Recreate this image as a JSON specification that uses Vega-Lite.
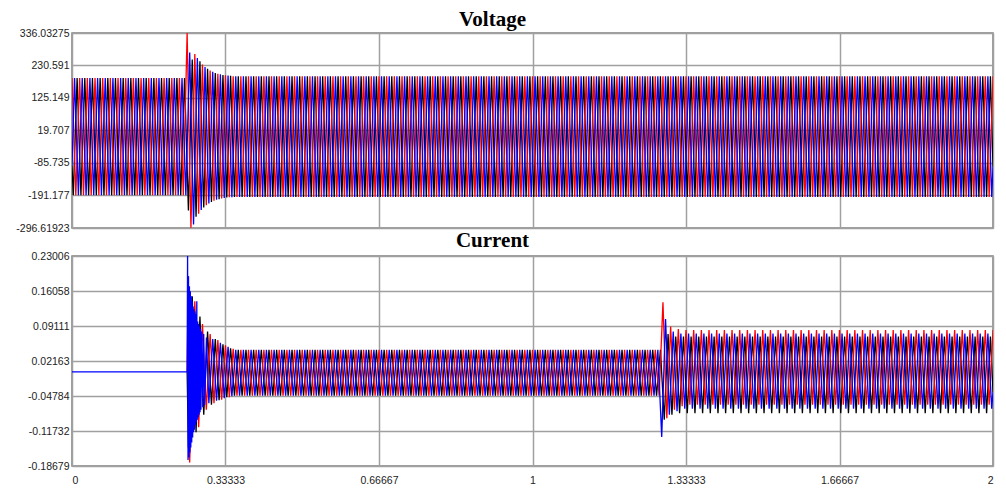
{
"$schema": "https://vega.github.io/schema/vega-lite/v6.json",
"padding": {"left": 15, "top": 8, "right": 10, "bottom": 4},
"background": "white",
"config": {
 "locale": {"number": {"decimal": ".", "thousands": ",", "grouping": [3], "currency": ["$", ""], "minus": "-"}},
 "view": {"stroke": "#808080", "strokeWidth": 1.5},
 "axis": {"grid": true, "gridColor": "#a0a0a0", "gridWidth": 1.5, "gridOpacity": 1, "ticks": false, "domain": false, "labelFont": "Liberation Sans", "labelFontSize": 10.5, "labelColor": "#222", "zindex": 1},
 "title": {"font": "Liberation Serif", "fontSize": 21, "fontWeight": "bold", "color": "#000", "anchor": "middle", "dx": -40, "baseline": "alphabetic"},
 "concat": {"spacing": -6}
},
"datasets": {
"vr": [{"t":0,"v":190},{"t":0.0083,"v":-190},{"t":0.0167,"v":190},{"t":0.025,"v":-190},{"t":0.0333,"v":190},{"t":0.0417,"v":-190},{"t":0.05,"v":190},{"t":0.0583,"v":-190},{"t":0.0667,"v":190},{"t":0.075,"v":-190},{"t":0.0833,"v":190},{"t":0.0917,"v":-190},
{"t":0.1,"v":190},{"t":0.1083,"v":-190},{"t":0.1167,"v":190},{"t":0.125,"v":-190},{"t":0.1333,"v":190},{"t":0.1417,"v":-190},{"t":0.15,"v":190},{"t":0.1583,"v":-190},{"t":0.1667,"v":190},{"t":0.175,"v":-190},{"t":0.1833,"v":190},{"t":0.1917,"v":-190},
{"t":0.2,"v":190},{"t":0.2083,"v":-190},{"t":0.2167,"v":190},{"t":0.225,"v":-190},{"t":0.2333,"v":190},{"t":0.2417,"v":-190},{"t":0.25,"v":336},{"t":0.2583,"v":-296},{"t":0.2667,"v":268},{"t":0.275,"v":-250},{"t":0.2833,"v":234},{"t":0.2917,"v":-223},
{"t":0.3,"v":214},{"t":0.3083,"v":-208},{"t":0.3167,"v":204},{"t":0.325,"v":-201},{"t":0.3333,"v":199},{"t":0.3417,"v":-197},{"t":0.35,"v":196},{"t":0.3583,"v":-196},{"t":0.3667,"v":196},{"t":0.375,"v":-196},{"t":0.3833,"v":196},{"t":0.3917,"v":-196},
{"t":0.4,"v":196},{"t":0.4083,"v":-196},{"t":0.4167,"v":196},{"t":0.425,"v":-196},{"t":0.4333,"v":196},{"t":0.4417,"v":-196},{"t":0.45,"v":196},{"t":0.4583,"v":-196},{"t":0.4667,"v":196},{"t":0.475,"v":-196},{"t":0.4833,"v":196},{"t":0.4917,"v":-196},
{"t":0.5,"v":196},{"t":0.5083,"v":-196},{"t":0.5167,"v":196},{"t":0.525,"v":-196},{"t":0.5333,"v":196},{"t":0.5417,"v":-196},{"t":0.55,"v":196},{"t":0.5583,"v":-196},{"t":0.5667,"v":196},{"t":0.575,"v":-196},{"t":0.5833,"v":196},{"t":0.5917,"v":-196},
{"t":0.6,"v":196},{"t":0.6083,"v":-196},{"t":0.6167,"v":196},{"t":0.625,"v":-196},{"t":0.6333,"v":196},{"t":0.6417,"v":-196},{"t":0.65,"v":196},{"t":0.6583,"v":-196},{"t":0.6667,"v":196},{"t":0.675,"v":-196},{"t":0.6833,"v":196},{"t":0.6917,"v":-196},
{"t":0.7,"v":196},{"t":0.7083,"v":-196},{"t":0.7167,"v":196},{"t":0.725,"v":-196},{"t":0.7333,"v":196},{"t":0.7417,"v":-196},{"t":0.75,"v":196},{"t":0.7583,"v":-196},{"t":0.7667,"v":196},{"t":0.775,"v":-196},{"t":0.7833,"v":196},{"t":0.7917,"v":-196},
{"t":0.8,"v":196},{"t":0.8083,"v":-196},{"t":0.8167,"v":196},{"t":0.825,"v":-196},{"t":0.8333,"v":196},{"t":0.8417,"v":-196},{"t":0.85,"v":196},{"t":0.8583,"v":-196},{"t":0.8667,"v":196},{"t":0.875,"v":-196},{"t":0.8833,"v":196},{"t":0.8917,"v":-196},
{"t":0.9,"v":196},{"t":0.9083,"v":-196},{"t":0.9167,"v":196},{"t":0.925,"v":-196},{"t":0.9333,"v":196},{"t":0.9417,"v":-196},{"t":0.95,"v":196},{"t":0.9583,"v":-196},{"t":0.9667,"v":196},{"t":0.975,"v":-196},{"t":0.9833,"v":196},{"t":0.9917,"v":-196},
{"t":1,"v":196},{"t":1.0083,"v":-196},{"t":1.0167,"v":196},{"t":1.025,"v":-196},{"t":1.0333,"v":196},{"t":1.0417,"v":-196},{"t":1.05,"v":196},{"t":1.0583,"v":-196},{"t":1.0667,"v":196},{"t":1.075,"v":-196},{"t":1.0833,"v":196},{"t":1.0917,"v":-196},
{"t":1.1,"v":196},{"t":1.1083,"v":-196},{"t":1.1167,"v":196},{"t":1.125,"v":-196},{"t":1.1333,"v":196},{"t":1.1417,"v":-196},{"t":1.15,"v":196},{"t":1.1583,"v":-196},{"t":1.1667,"v":196},{"t":1.175,"v":-196},{"t":1.1833,"v":196},{"t":1.1917,"v":-196},
{"t":1.2,"v":196},{"t":1.2083,"v":-196},{"t":1.2167,"v":196},{"t":1.225,"v":-196},{"t":1.2333,"v":196},{"t":1.2417,"v":-196},{"t":1.25,"v":196},{"t":1.2583,"v":-196},{"t":1.2667,"v":196},{"t":1.275,"v":-196},{"t":1.2833,"v":196},{"t":1.2917,"v":-196},
{"t":1.3,"v":196},{"t":1.3083,"v":-196},{"t":1.3167,"v":196},{"t":1.325,"v":-196},{"t":1.3333,"v":196},{"t":1.3417,"v":-196},{"t":1.35,"v":196},{"t":1.3583,"v":-196},{"t":1.3667,"v":196},{"t":1.375,"v":-196},{"t":1.3833,"v":196},{"t":1.3917,"v":-196},
{"t":1.4,"v":196},{"t":1.4083,"v":-196},{"t":1.4167,"v":196},{"t":1.425,"v":-196},{"t":1.4333,"v":196},{"t":1.4417,"v":-196},{"t":1.45,"v":196},{"t":1.4583,"v":-196},{"t":1.4667,"v":196},{"t":1.475,"v":-196},{"t":1.4833,"v":196},{"t":1.4917,"v":-196},
{"t":1.5,"v":196},{"t":1.5083,"v":-196},{"t":1.5167,"v":196},{"t":1.525,"v":-196},{"t":1.5333,"v":196},{"t":1.5417,"v":-196},{"t":1.55,"v":196},{"t":1.5583,"v":-196},{"t":1.5667,"v":196},{"t":1.575,"v":-196},{"t":1.5833,"v":196},{"t":1.5917,"v":-196},
{"t":1.6,"v":196},{"t":1.6083,"v":-196},{"t":1.6167,"v":196},{"t":1.625,"v":-196},{"t":1.6333,"v":196},{"t":1.6417,"v":-196},{"t":1.65,"v":196},{"t":1.6583,"v":-196},{"t":1.6667,"v":196},{"t":1.675,"v":-196},{"t":1.6833,"v":196},{"t":1.6917,"v":-196},
{"t":1.7,"v":196},{"t":1.7083,"v":-196},{"t":1.7167,"v":196},{"t":1.725,"v":-196},{"t":1.7333,"v":196},{"t":1.7417,"v":-196},{"t":1.75,"v":196},{"t":1.7583,"v":-196},{"t":1.7667,"v":196},{"t":1.775,"v":-196},{"t":1.7833,"v":196},{"t":1.7917,"v":-196},
{"t":1.8,"v":196},{"t":1.8083,"v":-196},{"t":1.8167,"v":196},{"t":1.825,"v":-196},{"t":1.8333,"v":196},{"t":1.8417,"v":-196},{"t":1.85,"v":196},{"t":1.8583,"v":-196},{"t":1.8667,"v":196},{"t":1.875,"v":-196},{"t":1.8833,"v":196},{"t":1.8917,"v":-196},
{"t":1.9,"v":196},{"t":1.9083,"v":-196},{"t":1.9167,"v":196},{"t":1.925,"v":-196},{"t":1.9333,"v":196},{"t":1.9417,"v":-196},{"t":1.95,"v":196},{"t":1.9583,"v":-196},{"t":1.9667,"v":196},{"t":1.975,"v":-196},{"t":1.9833,"v":196},{"t":1.9917,"v":-196},{"t":2,"v":196}],
"vk": [{"t":0,"v":-95},{"t":0.0028,"v":-190},{"t":0.0111,"v":190},{"t":0.0194,"v":-190},{"t":0.0278,"v":190},{"t":0.0361,"v":-190},{"t":0.0444,"v":190},{"t":0.0528,"v":-190},{"t":0.0611,"v":190},{"t":0.0694,"v":-190},{"t":0.0778,"v":190},{"t":0.0861,"v":-190},{"t":0.0944,"v":190},
{"t":0.1028,"v":-190},{"t":0.1111,"v":190},{"t":0.1194,"v":-190},{"t":0.1278,"v":190},{"t":0.1361,"v":-190},{"t":0.1444,"v":190},{"t":0.1528,"v":-190},{"t":0.1611,"v":190},{"t":0.1694,"v":-190},{"t":0.1778,"v":190},{"t":0.1861,"v":-190},{"t":0.1944,"v":190},
{"t":0.2028,"v":-190},{"t":0.2111,"v":190},{"t":0.2194,"v":-190},{"t":0.2278,"v":190},{"t":0.2361,"v":-190},{"t":0.2444,"v":190},{"t":0.2528,"v":-240},{"t":0.2611,"v":250},{"t":0.2694,"v":-260},{"t":0.2778,"v":244},{"t":0.2861,"v":-230},{"t":0.2944,"v":220},
{"t":0.3028,"v":-212},{"t":0.3111,"v":206},{"t":0.3194,"v":-203},{"t":0.3278,"v":200},{"t":0.3361,"v":-198},{"t":0.3444,"v":197},{"t":0.3528,"v":-196},{"t":0.3611,"v":196},{"t":0.3694,"v":-196},{"t":0.3778,"v":196},{"t":0.3861,"v":-196},{"t":0.3944,"v":196},
{"t":0.4028,"v":-196},{"t":0.4111,"v":196},{"t":0.4194,"v":-196},{"t":0.4278,"v":196},{"t":0.4361,"v":-196},{"t":0.4444,"v":196},{"t":0.4528,"v":-196},{"t":0.4611,"v":196},{"t":0.4694,"v":-196},{"t":0.4778,"v":196},{"t":0.4861,"v":-196},{"t":0.4944,"v":196},
{"t":0.5028,"v":-196},{"t":0.5111,"v":196},{"t":0.5194,"v":-196},{"t":0.5278,"v":196},{"t":0.5361,"v":-196},{"t":0.5444,"v":196},{"t":0.5528,"v":-196},{"t":0.5611,"v":196},{"t":0.5694,"v":-196},{"t":0.5778,"v":196},{"t":0.5861,"v":-196},{"t":0.5944,"v":196},
{"t":0.6028,"v":-196},{"t":0.6111,"v":196},{"t":0.6194,"v":-196},{"t":0.6278,"v":196},{"t":0.6361,"v":-196},{"t":0.6444,"v":196},{"t":0.6528,"v":-196},{"t":0.6611,"v":196},{"t":0.6694,"v":-196},{"t":0.6778,"v":196},{"t":0.6861,"v":-196},{"t":0.6944,"v":196},
{"t":0.7028,"v":-196},{"t":0.7111,"v":196},{"t":0.7194,"v":-196},{"t":0.7278,"v":196},{"t":0.7361,"v":-196},{"t":0.7444,"v":196},{"t":0.7528,"v":-196},{"t":0.7611,"v":196},{"t":0.7694,"v":-196},{"t":0.7778,"v":196},{"t":0.7861,"v":-196},{"t":0.7944,"v":196},
{"t":0.8028,"v":-196},{"t":0.8111,"v":196},{"t":0.8194,"v":-196},{"t":0.8278,"v":196},{"t":0.8361,"v":-196},{"t":0.8444,"v":196},{"t":0.8528,"v":-196},{"t":0.8611,"v":196},{"t":0.8694,"v":-196},{"t":0.8778,"v":196},{"t":0.8861,"v":-196},{"t":0.8944,"v":196},
{"t":0.9028,"v":-196},{"t":0.9111,"v":196},{"t":0.9194,"v":-196},{"t":0.9278,"v":196},{"t":0.9361,"v":-196},{"t":0.9444,"v":196},{"t":0.9528,"v":-196},{"t":0.9611,"v":196},{"t":0.9694,"v":-196},{"t":0.9778,"v":196},{"t":0.9861,"v":-196},{"t":0.9944,"v":196},
{"t":1.0028,"v":-196},{"t":1.0111,"v":196},{"t":1.0194,"v":-196},{"t":1.0278,"v":196},{"t":1.0361,"v":-196},{"t":1.0444,"v":196},{"t":1.0528,"v":-196},{"t":1.0611,"v":196},{"t":1.0694,"v":-196},{"t":1.0778,"v":196},{"t":1.0861,"v":-196},{"t":1.0944,"v":196},
{"t":1.1028,"v":-196},{"t":1.1111,"v":196},{"t":1.1194,"v":-196},{"t":1.1278,"v":196},{"t":1.1361,"v":-196},{"t":1.1444,"v":196},{"t":1.1528,"v":-196},{"t":1.1611,"v":196},{"t":1.1694,"v":-196},{"t":1.1778,"v":196},{"t":1.1861,"v":-196},{"t":1.1944,"v":196},
{"t":1.2028,"v":-196},{"t":1.2111,"v":196},{"t":1.2194,"v":-196},{"t":1.2278,"v":196},{"t":1.2361,"v":-196},{"t":1.2444,"v":196},{"t":1.2528,"v":-196},{"t":1.2611,"v":196},{"t":1.2694,"v":-196},{"t":1.2778,"v":196},{"t":1.2861,"v":-196},{"t":1.2944,"v":196},
{"t":1.3028,"v":-196},{"t":1.3111,"v":196},{"t":1.3194,"v":-196},{"t":1.3278,"v":196},{"t":1.3361,"v":-196},{"t":1.3444,"v":196},{"t":1.3528,"v":-196},{"t":1.3611,"v":196},{"t":1.3694,"v":-196},{"t":1.3778,"v":196},{"t":1.3861,"v":-196},{"t":1.3944,"v":196},
{"t":1.4028,"v":-196},{"t":1.4111,"v":196},{"t":1.4194,"v":-196},{"t":1.4278,"v":196},{"t":1.4361,"v":-196},{"t":1.4444,"v":196},{"t":1.4528,"v":-196},{"t":1.4611,"v":196},{"t":1.4694,"v":-196},{"t":1.4778,"v":196},{"t":1.4861,"v":-196},{"t":1.4944,"v":196},
{"t":1.5028,"v":-196},{"t":1.5111,"v":196},{"t":1.5194,"v":-196},{"t":1.5278,"v":196},{"t":1.5361,"v":-196},{"t":1.5444,"v":196},{"t":1.5528,"v":-196},{"t":1.5611,"v":196},{"t":1.5694,"v":-196},{"t":1.5778,"v":196},{"t":1.5861,"v":-196},{"t":1.5944,"v":196},
{"t":1.6028,"v":-196},{"t":1.6111,"v":196},{"t":1.6194,"v":-196},{"t":1.6278,"v":196},{"t":1.6361,"v":-196},{"t":1.6444,"v":196},{"t":1.6528,"v":-196},{"t":1.6611,"v":196},{"t":1.6694,"v":-196},{"t":1.6778,"v":196},{"t":1.6861,"v":-196},{"t":1.6944,"v":196},
{"t":1.7028,"v":-196},{"t":1.7111,"v":196},{"t":1.7194,"v":-196},{"t":1.7278,"v":196},{"t":1.7361,"v":-196},{"t":1.7444,"v":196},{"t":1.7528,"v":-196},{"t":1.7611,"v":196},{"t":1.7694,"v":-196},{"t":1.7778,"v":196},{"t":1.7861,"v":-196},{"t":1.7944,"v":196},
{"t":1.8028,"v":-196},{"t":1.8111,"v":196},{"t":1.8194,"v":-196},{"t":1.8278,"v":196},{"t":1.8361,"v":-196},{"t":1.8444,"v":196},{"t":1.8528,"v":-196},{"t":1.8611,"v":196},{"t":1.8694,"v":-196},{"t":1.8778,"v":196},{"t":1.8861,"v":-196},{"t":1.8944,"v":196},
{"t":1.9028,"v":-196},{"t":1.9111,"v":196},{"t":1.9194,"v":-196},{"t":1.9278,"v":196},{"t":1.9361,"v":-196},{"t":1.9444,"v":196},{"t":1.9528,"v":-196},{"t":1.9611,"v":196},{"t":1.9694,"v":-196},{"t":1.9778,"v":196},{"t":1.9861,"v":-196},{"t":1.9944,"v":196},{"t":2,"v":-98}],
"vb": [{"t":0,"v":-95},{"t":0.0056,"v":190},{"t":0.0139,"v":-190},{"t":0.0222,"v":190},{"t":0.0306,"v":-190},{"t":0.0389,"v":190},{"t":0.0472,"v":-190},{"t":0.0556,"v":190},{"t":0.0639,"v":-190},{"t":0.0722,"v":190},{"t":0.0806,"v":-190},{"t":0.0889,"v":190},{"t":0.0972,"v":-190},
{"t":0.1056,"v":190},{"t":0.1139,"v":-190},{"t":0.1222,"v":190},{"t":0.1306,"v":-190},{"t":0.1389,"v":190},{"t":0.1472,"v":-190},{"t":0.1556,"v":190},{"t":0.1639,"v":-190},{"t":0.1722,"v":190},{"t":0.1806,"v":-190},{"t":0.1889,"v":190},{"t":0.1972,"v":-190},
{"t":0.2056,"v":190},{"t":0.2139,"v":-190},{"t":0.2222,"v":190},{"t":0.2306,"v":-190},{"t":0.2389,"v":190},{"t":0.2472,"v":-190},{"t":0.2556,"v":273},{"t":0.2639,"v":-285},{"t":0.2722,"v":255},{"t":0.2806,"v":-238},{"t":0.2889,"v":226},{"t":0.2972,"v":-217},
{"t":0.3056,"v":210},{"t":0.3139,"v":-205},{"t":0.3222,"v":202},{"t":0.3306,"v":-199},{"t":0.3389,"v":198},{"t":0.3472,"v":-197},{"t":0.3556,"v":196},{"t":0.3639,"v":-196},{"t":0.3722,"v":196},{"t":0.3806,"v":-196},{"t":0.3889,"v":196},{"t":0.3972,"v":-196},
{"t":0.4056,"v":196},{"t":0.4139,"v":-196},{"t":0.4222,"v":196},{"t":0.4306,"v":-196},{"t":0.4389,"v":196},{"t":0.4472,"v":-196},{"t":0.4556,"v":196},{"t":0.4639,"v":-196},{"t":0.4722,"v":196},{"t":0.4806,"v":-196},{"t":0.4889,"v":196},{"t":0.4972,"v":-196},
{"t":0.5056,"v":196},{"t":0.5139,"v":-196},{"t":0.5222,"v":196},{"t":0.5306,"v":-196},{"t":0.5389,"v":196},{"t":0.5472,"v":-196},{"t":0.5556,"v":196},{"t":0.5639,"v":-196},{"t":0.5722,"v":196},{"t":0.5806,"v":-196},{"t":0.5889,"v":196},{"t":0.5972,"v":-196},
{"t":0.6056,"v":196},{"t":0.6139,"v":-196},{"t":0.6222,"v":196},{"t":0.6306,"v":-196},{"t":0.6389,"v":196},{"t":0.6472,"v":-196},{"t":0.6556,"v":196},{"t":0.6639,"v":-196},{"t":0.6722,"v":196},{"t":0.6806,"v":-196},{"t":0.6889,"v":196},{"t":0.6972,"v":-196},
{"t":0.7056,"v":196},{"t":0.7139,"v":-196},{"t":0.7222,"v":196},{"t":0.7306,"v":-196},{"t":0.7389,"v":196},{"t":0.7472,"v":-196},{"t":0.7556,"v":196},{"t":0.7639,"v":-196},{"t":0.7722,"v":196},{"t":0.7806,"v":-196},{"t":0.7889,"v":196},{"t":0.7972,"v":-196},
{"t":0.8056,"v":196},{"t":0.8139,"v":-196},{"t":0.8222,"v":196},{"t":0.8306,"v":-196},{"t":0.8389,"v":196},{"t":0.8472,"v":-196},{"t":0.8556,"v":196},{"t":0.8639,"v":-196},{"t":0.8722,"v":196},{"t":0.8806,"v":-196},{"t":0.8889,"v":196},{"t":0.8972,"v":-196},
{"t":0.9056,"v":196},{"t":0.9139,"v":-196},{"t":0.9222,"v":196},{"t":0.9306,"v":-196},{"t":0.9389,"v":196},{"t":0.9472,"v":-196},{"t":0.9556,"v":196},{"t":0.9639,"v":-196},{"t":0.9722,"v":196},{"t":0.9806,"v":-196},{"t":0.9889,"v":196},{"t":0.9972,"v":-196},
{"t":1.0056,"v":196},{"t":1.0139,"v":-196},{"t":1.0222,"v":196},{"t":1.0306,"v":-196},{"t":1.0389,"v":196},{"t":1.0472,"v":-196},{"t":1.0556,"v":196},{"t":1.0639,"v":-196},{"t":1.0722,"v":196},{"t":1.0806,"v":-196},{"t":1.0889,"v":196},{"t":1.0972,"v":-196},
{"t":1.1056,"v":196},{"t":1.1139,"v":-196},{"t":1.1222,"v":196},{"t":1.1306,"v":-196},{"t":1.1389,"v":196},{"t":1.1472,"v":-196},{"t":1.1556,"v":196},{"t":1.1639,"v":-196},{"t":1.1722,"v":196},{"t":1.1806,"v":-196},{"t":1.1889,"v":196},{"t":1.1972,"v":-196},
{"t":1.2056,"v":196},{"t":1.2139,"v":-196},{"t":1.2222,"v":196},{"t":1.2306,"v":-196},{"t":1.2389,"v":196},{"t":1.2472,"v":-196},{"t":1.2556,"v":196},{"t":1.2639,"v":-196},{"t":1.2722,"v":196},{"t":1.2806,"v":-196},{"t":1.2889,"v":196},{"t":1.2972,"v":-196},
{"t":1.3056,"v":196},{"t":1.3139,"v":-196},{"t":1.3222,"v":196},{"t":1.3306,"v":-196},{"t":1.3389,"v":196},{"t":1.3472,"v":-196},{"t":1.3556,"v":196},{"t":1.3639,"v":-196},{"t":1.3722,"v":196},{"t":1.3806,"v":-196},{"t":1.3889,"v":196},{"t":1.3972,"v":-196},
{"t":1.4056,"v":196},{"t":1.4139,"v":-196},{"t":1.4222,"v":196},{"t":1.4306,"v":-196},{"t":1.4389,"v":196},{"t":1.4472,"v":-196},{"t":1.4556,"v":196},{"t":1.4639,"v":-196},{"t":1.4722,"v":196},{"t":1.4806,"v":-196},{"t":1.4889,"v":196},{"t":1.4972,"v":-196},
{"t":1.5056,"v":196},{"t":1.5139,"v":-196},{"t":1.5222,"v":196},{"t":1.5306,"v":-196},{"t":1.5389,"v":196},{"t":1.5472,"v":-196},{"t":1.5556,"v":196},{"t":1.5639,"v":-196},{"t":1.5722,"v":196},{"t":1.5806,"v":-196},{"t":1.5889,"v":196},{"t":1.5972,"v":-196},
{"t":1.6056,"v":196},{"t":1.6139,"v":-196},{"t":1.6222,"v":196},{"t":1.6306,"v":-196},{"t":1.6389,"v":196},{"t":1.6472,"v":-196},{"t":1.6556,"v":196},{"t":1.6639,"v":-196},{"t":1.6722,"v":196},{"t":1.6806,"v":-196},{"t":1.6889,"v":196},{"t":1.6972,"v":-196},
{"t":1.7056,"v":196},{"t":1.7139,"v":-196},{"t":1.7222,"v":196},{"t":1.7306,"v":-196},{"t":1.7389,"v":196},{"t":1.7472,"v":-196},{"t":1.7556,"v":196},{"t":1.7639,"v":-196},{"t":1.7722,"v":196},{"t":1.7806,"v":-196},{"t":1.7889,"v":196},{"t":1.7972,"v":-196},
{"t":1.8056,"v":196},{"t":1.8139,"v":-196},{"t":1.8222,"v":196},{"t":1.8306,"v":-196},{"t":1.8389,"v":196},{"t":1.8472,"v":-196},{"t":1.8556,"v":196},{"t":1.8639,"v":-196},{"t":1.8722,"v":196},{"t":1.8806,"v":-196},{"t":1.8889,"v":196},{"t":1.8972,"v":-196},
{"t":1.9056,"v":196},{"t":1.9139,"v":-196},{"t":1.9222,"v":196},{"t":1.9306,"v":-196},{"t":1.9389,"v":196},{"t":1.9472,"v":-196},{"t":1.9556,"v":196},{"t":1.9639,"v":-196},{"t":1.9722,"v":196},{"t":1.9806,"v":-196},{"t":1.9889,"v":196},{"t":1.9972,"v":-196},{"t":2,"v":-98}],
"cr": [{"t":0.25,"v":0},{"t":0.2525,"v":0.19},{"t":0.2555,"v":-0.18},{"t":0.2667,"v":0.14},{"t":0.275,"v":-0.11},{"t":0.2833,"v":0.095},{"t":0.2917,"v":-0.075},
{"t":0.3,"v":0.075},{"t":0.3083,"v":-0.062},{"t":0.3167,"v":0.063},{"t":0.325,"v":-0.055},{"t":0.3333,"v":0.053},{"t":0.3417,"v":-0.05},{"t":0.35,"v":0.046},{"t":0.3583,"v":-0.047},{"t":0.3667,"v":0.044},{"t":0.375,"v":-0.047},{"t":0.3833,"v":0.044},{"t":0.3917,"v":-0.047},
{"t":0.4,"v":0.044},{"t":0.4083,"v":-0.047},{"t":0.4167,"v":0.044},{"t":0.425,"v":-0.047},{"t":0.4333,"v":0.044},{"t":0.4417,"v":-0.047},{"t":0.45,"v":0.044},{"t":0.4583,"v":-0.047},{"t":0.4667,"v":0.044},{"t":0.475,"v":-0.047},{"t":0.4833,"v":0.044},{"t":0.4917,"v":-0.047},
{"t":0.5,"v":0.044},{"t":0.5083,"v":-0.047},{"t":0.5167,"v":0.044},{"t":0.525,"v":-0.047},{"t":0.5333,"v":0.044},{"t":0.5417,"v":-0.047},{"t":0.55,"v":0.044},{"t":0.5583,"v":-0.047},{"t":0.5667,"v":0.044},{"t":0.575,"v":-0.047},{"t":0.5833,"v":0.044},{"t":0.5917,"v":-0.047},
{"t":0.6,"v":0.044},{"t":0.6083,"v":-0.047},{"t":0.6167,"v":0.044},{"t":0.625,"v":-0.047},{"t":0.6333,"v":0.044},{"t":0.6417,"v":-0.047},{"t":0.65,"v":0.044},{"t":0.6583,"v":-0.047},{"t":0.6667,"v":0.044},{"t":0.675,"v":-0.047},{"t":0.6833,"v":0.044},{"t":0.6917,"v":-0.047},
{"t":0.7,"v":0.044},{"t":0.7083,"v":-0.047},{"t":0.7167,"v":0.044},{"t":0.725,"v":-0.047},{"t":0.7333,"v":0.044},{"t":0.7417,"v":-0.047},{"t":0.75,"v":0.044},{"t":0.7583,"v":-0.047},{"t":0.7667,"v":0.044},{"t":0.775,"v":-0.047},{"t":0.7833,"v":0.044},{"t":0.7917,"v":-0.047},
{"t":0.8,"v":0.044},{"t":0.8083,"v":-0.047},{"t":0.8167,"v":0.044},{"t":0.825,"v":-0.047},{"t":0.8333,"v":0.044},{"t":0.8417,"v":-0.047},{"t":0.85,"v":0.044},{"t":0.8583,"v":-0.047},{"t":0.8667,"v":0.044},{"t":0.875,"v":-0.047},{"t":0.8833,"v":0.044},{"t":0.8917,"v":-0.047},
{"t":0.9,"v":0.044},{"t":0.9083,"v":-0.047},{"t":0.9167,"v":0.044},{"t":0.925,"v":-0.047},{"t":0.9333,"v":0.044},{"t":0.9417,"v":-0.047},{"t":0.95,"v":0.044},{"t":0.9583,"v":-0.047},{"t":0.9667,"v":0.044},{"t":0.975,"v":-0.047},{"t":0.9833,"v":0.044},{"t":0.9917,"v":-0.047},
{"t":1,"v":0.044},{"t":1.0083,"v":-0.047},{"t":1.0167,"v":0.044},{"t":1.025,"v":-0.047},{"t":1.0333,"v":0.044},{"t":1.0417,"v":-0.047},{"t":1.05,"v":0.044},{"t":1.0583,"v":-0.047},{"t":1.0667,"v":0.044},{"t":1.075,"v":-0.047},{"t":1.0833,"v":0.044},{"t":1.0917,"v":-0.047},
{"t":1.1,"v":0.044},{"t":1.1083,"v":-0.047},{"t":1.1167,"v":0.044},{"t":1.125,"v":-0.047},{"t":1.1333,"v":0.044},{"t":1.1417,"v":-0.047},{"t":1.15,"v":0.044},{"t":1.1583,"v":-0.047},{"t":1.1667,"v":0.044},{"t":1.175,"v":-0.047},{"t":1.1833,"v":0.044},{"t":1.1917,"v":-0.047},
{"t":1.2,"v":0.044},{"t":1.2083,"v":-0.047},{"t":1.2167,"v":0.044},{"t":1.225,"v":-0.047},{"t":1.2333,"v":0.044},{"t":1.2417,"v":-0.047},{"t":1.25,"v":0.044},{"t":1.2583,"v":-0.047},{"t":1.2667,"v":0.044},{"t":1.275,"v":-0.047},{"t":1.2833,"v":0.138},{"t":1.2917,"v":-0.092},
{"t":1.3,"v":0.09},{"t":1.3083,"v":-0.075},{"t":1.3167,"v":0.085},{"t":1.325,"v":-0.068},{"t":1.3333,"v":0.083},{"t":1.3417,"v":-0.065},{"t":1.35,"v":0.083},{"t":1.3583,"v":-0.065},{"t":1.3667,"v":0.083},{"t":1.375,"v":-0.065},{"t":1.3833,"v":0.083},{"t":1.3917,"v":-0.065},
{"t":1.4,"v":0.083},{"t":1.4083,"v":-0.065},{"t":1.4167,"v":0.083},{"t":1.425,"v":-0.065},{"t":1.4333,"v":0.083},{"t":1.4417,"v":-0.065},{"t":1.45,"v":0.083},{"t":1.4583,"v":-0.065},{"t":1.4667,"v":0.083},{"t":1.475,"v":-0.065},{"t":1.4833,"v":0.083},{"t":1.4917,"v":-0.065},
{"t":1.5,"v":0.083},{"t":1.5083,"v":-0.065},{"t":1.5167,"v":0.083},{"t":1.525,"v":-0.065},{"t":1.5333,"v":0.083},{"t":1.5417,"v":-0.065},{"t":1.55,"v":0.083},{"t":1.5583,"v":-0.065},{"t":1.5667,"v":0.083},{"t":1.575,"v":-0.065},{"t":1.5833,"v":0.083},{"t":1.5917,"v":-0.065},
{"t":1.6,"v":0.083},{"t":1.6083,"v":-0.065},{"t":1.6167,"v":0.083},{"t":1.625,"v":-0.065},{"t":1.6333,"v":0.083},{"t":1.6417,"v":-0.065},{"t":1.65,"v":0.083},{"t":1.6583,"v":-0.065},{"t":1.6667,"v":0.083},{"t":1.675,"v":-0.065},{"t":1.6833,"v":0.083},{"t":1.6917,"v":-0.065},
{"t":1.7,"v":0.083},{"t":1.7083,"v":-0.065},{"t":1.7167,"v":0.083},{"t":1.725,"v":-0.065},{"t":1.7333,"v":0.083},{"t":1.7417,"v":-0.065},{"t":1.75,"v":0.083},{"t":1.7583,"v":-0.065},{"t":1.7667,"v":0.083},{"t":1.775,"v":-0.065},{"t":1.7833,"v":0.083},{"t":1.7917,"v":-0.065},
{"t":1.8,"v":0.083},{"t":1.8083,"v":-0.065},{"t":1.8167,"v":0.083},{"t":1.825,"v":-0.065},{"t":1.8333,"v":0.083},{"t":1.8417,"v":-0.065},{"t":1.85,"v":0.083},{"t":1.8583,"v":-0.065},{"t":1.8667,"v":0.083},{"t":1.875,"v":-0.065},{"t":1.8833,"v":0.083},{"t":1.8917,"v":-0.065},
{"t":1.9,"v":0.083},{"t":1.9083,"v":-0.065},{"t":1.9167,"v":0.083},{"t":1.925,"v":-0.065},{"t":1.9333,"v":0.083},{"t":1.9417,"v":-0.065},{"t":1.95,"v":0.083},{"t":1.9583,"v":-0.065},{"t":1.9667,"v":0.083},{"t":1.975,"v":-0.065},{"t":1.9833,"v":0.083},{"t":1.9917,"v":-0.065},{"t":2,"v":0.083}],
"ck": [{"t":0.25,"v":0},{"t":0.2528,"v":-0.15},{"t":0.2611,"v":0.15},{"t":0.2694,"v":-0.12},{"t":0.2778,"v":0.11},{"t":0.2861,"v":-0.085},{"t":0.2944,"v":0.08},
{"t":0.3028,"v":-0.065},{"t":0.3111,"v":0.065},{"t":0.3194,"v":-0.056},{"t":0.3278,"v":0.055},{"t":0.3361,"v":-0.05},{"t":0.3444,"v":0.047},{"t":0.3528,"v":-0.047},{"t":0.3611,"v":0.044},{"t":0.3694,"v":-0.047},{"t":0.3778,"v":0.044},{"t":0.3861,"v":-0.047},{"t":0.3944,"v":0.044},
{"t":0.4028,"v":-0.047},{"t":0.4111,"v":0.044},{"t":0.4194,"v":-0.047},{"t":0.4278,"v":0.044},{"t":0.4361,"v":-0.047},{"t":0.4444,"v":0.044},{"t":0.4528,"v":-0.047},{"t":0.4611,"v":0.044},{"t":0.4694,"v":-0.047},{"t":0.4778,"v":0.044},{"t":0.4861,"v":-0.047},{"t":0.4944,"v":0.044},
{"t":0.5028,"v":-0.047},{"t":0.5111,"v":0.044},{"t":0.5194,"v":-0.047},{"t":0.5278,"v":0.044},{"t":0.5361,"v":-0.047},{"t":0.5444,"v":0.044},{"t":0.5528,"v":-0.047},{"t":0.5611,"v":0.044},{"t":0.5694,"v":-0.047},{"t":0.5778,"v":0.044},{"t":0.5861,"v":-0.047},{"t":0.5944,"v":0.044},
{"t":0.6028,"v":-0.047},{"t":0.6111,"v":0.044},{"t":0.6194,"v":-0.047},{"t":0.6278,"v":0.044},{"t":0.6361,"v":-0.047},{"t":0.6444,"v":0.044},{"t":0.6528,"v":-0.047},{"t":0.6611,"v":0.044},{"t":0.6694,"v":-0.047},{"t":0.6778,"v":0.044},{"t":0.6861,"v":-0.047},{"t":0.6944,"v":0.044},
{"t":0.7028,"v":-0.047},{"t":0.7111,"v":0.044},{"t":0.7194,"v":-0.047},{"t":0.7278,"v":0.044},{"t":0.7361,"v":-0.047},{"t":0.7444,"v":0.044},{"t":0.7528,"v":-0.047},{"t":0.7611,"v":0.044},{"t":0.7694,"v":-0.047},{"t":0.7778,"v":0.044},{"t":0.7861,"v":-0.047},{"t":0.7944,"v":0.044},
{"t":0.8028,"v":-0.047},{"t":0.8111,"v":0.044},{"t":0.8194,"v":-0.047},{"t":0.8278,"v":0.044},{"t":0.8361,"v":-0.047},{"t":0.8444,"v":0.044},{"t":0.8528,"v":-0.047},{"t":0.8611,"v":0.044},{"t":0.8694,"v":-0.047},{"t":0.8778,"v":0.044},{"t":0.8861,"v":-0.047},{"t":0.8944,"v":0.044},
{"t":0.9028,"v":-0.047},{"t":0.9111,"v":0.044},{"t":0.9194,"v":-0.047},{"t":0.9278,"v":0.044},{"t":0.9361,"v":-0.047},{"t":0.9444,"v":0.044},{"t":0.9528,"v":-0.047},{"t":0.9611,"v":0.044},{"t":0.9694,"v":-0.047},{"t":0.9778,"v":0.044},{"t":0.9861,"v":-0.047},{"t":0.9944,"v":0.044},
{"t":1.0028,"v":-0.047},{"t":1.0111,"v":0.044},{"t":1.0194,"v":-0.047},{"t":1.0278,"v":0.044},{"t":1.0361,"v":-0.047},{"t":1.0444,"v":0.044},{"t":1.0528,"v":-0.047},{"t":1.0611,"v":0.044},{"t":1.0694,"v":-0.047},{"t":1.0778,"v":0.044},{"t":1.0861,"v":-0.047},{"t":1.0944,"v":0.044},
{"t":1.1028,"v":-0.047},{"t":1.1111,"v":0.044},{"t":1.1194,"v":-0.047},{"t":1.1278,"v":0.044},{"t":1.1361,"v":-0.047},{"t":1.1444,"v":0.044},{"t":1.1528,"v":-0.047},{"t":1.1611,"v":0.044},{"t":1.1694,"v":-0.047},{"t":1.1778,"v":0.044},{"t":1.1861,"v":-0.047},{"t":1.1944,"v":0.044},
{"t":1.2028,"v":-0.047},{"t":1.2111,"v":0.044},{"t":1.2194,"v":-0.047},{"t":1.2278,"v":0.044},{"t":1.2361,"v":-0.047},{"t":1.2444,"v":0.044},{"t":1.2528,"v":-0.047},{"t":1.2611,"v":0.044},{"t":1.2694,"v":-0.047},{"t":1.2778,"v":0.044},{"t":1.2861,"v":-0.095},{"t":1.2944,"v":0.075},
{"t":1.3028,"v":-0.085},{"t":1.3111,"v":0.07},{"t":1.3194,"v":-0.082},{"t":1.3278,"v":0.07},{"t":1.3361,"v":-0.082},{"t":1.3444,"v":0.07},{"t":1.3528,"v":-0.082},{"t":1.3611,"v":0.07},{"t":1.3694,"v":-0.082},{"t":1.3778,"v":0.07},{"t":1.3861,"v":-0.082},{"t":1.3944,"v":0.07},
{"t":1.4028,"v":-0.082},{"t":1.4111,"v":0.07},{"t":1.4194,"v":-0.082},{"t":1.4278,"v":0.07},{"t":1.4361,"v":-0.082},{"t":1.4444,"v":0.07},{"t":1.4528,"v":-0.082},{"t":1.4611,"v":0.07},{"t":1.4694,"v":-0.082},{"t":1.4778,"v":0.07},{"t":1.4861,"v":-0.082},{"t":1.4944,"v":0.07},
{"t":1.5028,"v":-0.082},{"t":1.5111,"v":0.07},{"t":1.5194,"v":-0.082},{"t":1.5278,"v":0.07},{"t":1.5361,"v":-0.082},{"t":1.5444,"v":0.07},{"t":1.5528,"v":-0.082},{"t":1.5611,"v":0.07},{"t":1.5694,"v":-0.082},{"t":1.5778,"v":0.07},{"t":1.5861,"v":-0.082},{"t":1.5944,"v":0.07},
{"t":1.6028,"v":-0.082},{"t":1.6111,"v":0.07},{"t":1.6194,"v":-0.082},{"t":1.6278,"v":0.07},{"t":1.6361,"v":-0.082},{"t":1.6444,"v":0.07},{"t":1.6528,"v":-0.082},{"t":1.6611,"v":0.07},{"t":1.6694,"v":-0.082},{"t":1.6778,"v":0.07},{"t":1.6861,"v":-0.082},{"t":1.6944,"v":0.07},
{"t":1.7028,"v":-0.082},{"t":1.7111,"v":0.07},{"t":1.7194,"v":-0.082},{"t":1.7278,"v":0.07},{"t":1.7361,"v":-0.082},{"t":1.7444,"v":0.07},{"t":1.7528,"v":-0.082},{"t":1.7611,"v":0.07},{"t":1.7694,"v":-0.082},{"t":1.7778,"v":0.07},{"t":1.7861,"v":-0.082},{"t":1.7944,"v":0.07},
{"t":1.8028,"v":-0.082},{"t":1.8111,"v":0.07},{"t":1.8194,"v":-0.082},{"t":1.8278,"v":0.07},{"t":1.8361,"v":-0.082},{"t":1.8444,"v":0.07},{"t":1.8528,"v":-0.082},{"t":1.8611,"v":0.07},{"t":1.8694,"v":-0.082},{"t":1.8778,"v":0.07},{"t":1.8861,"v":-0.082},{"t":1.8944,"v":0.07},
{"t":1.9028,"v":-0.082},{"t":1.9111,"v":0.07},{"t":1.9194,"v":-0.082},{"t":1.9278,"v":0.07},{"t":1.9361,"v":-0.082},{"t":1.9444,"v":0.07},{"t":1.9528,"v":-0.082},{"t":1.9611,"v":0.07},{"t":1.9694,"v":-0.082},{"t":1.9778,"v":0.07},{"t":1.9861,"v":-0.082},{"t":1.9944,"v":0.07},{"t":2,"v":-0.04}],
"cb": [{"t":0,"v":0},{"t":0.25,"v":0},{"t":0.251,"v":0.23},{"t":0.252,"v":-0.175},{"t":0.253,"v":0.19},{"t":0.254,"v":-0.17},{"t":0.255,"v":0.17},{"t":0.256,"v":-0.16},{"t":0.257,"v":0.16},{"t":0.258,"v":-0.15},{"t":0.259,"v":0.15},{"t":0.26,"v":-0.14},{"t":0.261,"v":0.14},{"t":0.262,"v":-0.13},{"t":0.263,"v":0.13},{"t":0.264,"v":-0.12},{"t":0.265,"v":0.125},{"t":0.266,"v":-0.115},{"t":0.267,"v":0.12},{"t":0.268,"v":-0.105},{"t":0.269,"v":0.115},{"t":0.27,"v":-0.1},{"t":0.271,"v":0.14},{"t":0.272,"v":-0.095},{"t":0.273,"v":0.1},{"t":0.274,"v":-0.09},{"t":0.275,"v":0.095},{"t":0.276,"v":-0.085},{"t":0.277,"v":0.09},{"t":0.278,"v":-0.08},{"t":0.279,"v":0.085},{"t":0.28,"v":-0.075},{"t":0.282,"v":0.08},{"t":0.284,"v":-0.07},{"t":0.286,"v":0.075},{"t":0.288,"v":-0.065},{"t":0.292,"v":0.068},{"t":0.2972,"v":-0.062},
{"t":0.3056,"v":0.065},{"t":0.3139,"v":-0.057},{"t":0.3222,"v":0.058},{"t":0.3306,"v":-0.052},{"t":0.3389,"v":0.05},{"t":0.3472,"v":-0.048},{"t":0.3556,"v":0.044},{"t":0.3639,"v":-0.047},{"t":0.3722,"v":0.044},{"t":0.3806,"v":-0.047},{"t":0.3889,"v":0.044},{"t":0.3972,"v":-0.047},
{"t":0.4056,"v":0.044},{"t":0.4139,"v":-0.047},{"t":0.4222,"v":0.044},{"t":0.4306,"v":-0.047},{"t":0.4389,"v":0.044},{"t":0.4472,"v":-0.047},{"t":0.4556,"v":0.044},{"t":0.4639,"v":-0.047},{"t":0.4722,"v":0.044},{"t":0.4806,"v":-0.047},{"t":0.4889,"v":0.044},{"t":0.4972,"v":-0.047},
{"t":0.5056,"v":0.044},{"t":0.5139,"v":-0.047},{"t":0.5222,"v":0.044},{"t":0.5306,"v":-0.047},{"t":0.5389,"v":0.044},{"t":0.5472,"v":-0.047},{"t":0.5556,"v":0.044},{"t":0.5639,"v":-0.047},{"t":0.5722,"v":0.044},{"t":0.5806,"v":-0.047},{"t":0.5889,"v":0.044},{"t":0.5972,"v":-0.047},
{"t":0.6056,"v":0.044},{"t":0.6139,"v":-0.047},{"t":0.6222,"v":0.044},{"t":0.6306,"v":-0.047},{"t":0.6389,"v":0.044},{"t":0.6472,"v":-0.047},{"t":0.6556,"v":0.044},{"t":0.6639,"v":-0.047},{"t":0.6722,"v":0.044},{"t":0.6806,"v":-0.047},{"t":0.6889,"v":0.044},{"t":0.6972,"v":-0.047},
{"t":0.7056,"v":0.044},{"t":0.7139,"v":-0.047},{"t":0.7222,"v":0.044},{"t":0.7306,"v":-0.047},{"t":0.7389,"v":0.044},{"t":0.7472,"v":-0.047},{"t":0.7556,"v":0.044},{"t":0.7639,"v":-0.047},{"t":0.7722,"v":0.044},{"t":0.7806,"v":-0.047},{"t":0.7889,"v":0.044},{"t":0.7972,"v":-0.047},
{"t":0.8056,"v":0.044},{"t":0.8139,"v":-0.047},{"t":0.8222,"v":0.044},{"t":0.8306,"v":-0.047},{"t":0.8389,"v":0.044},{"t":0.8472,"v":-0.047},{"t":0.8556,"v":0.044},{"t":0.8639,"v":-0.047},{"t":0.8722,"v":0.044},{"t":0.8806,"v":-0.047},{"t":0.8889,"v":0.044},{"t":0.8972,"v":-0.047},
{"t":0.9056,"v":0.044},{"t":0.9139,"v":-0.047},{"t":0.9222,"v":0.044},{"t":0.9306,"v":-0.047},{"t":0.9389,"v":0.044},{"t":0.9472,"v":-0.047},{"t":0.9556,"v":0.044},{"t":0.9639,"v":-0.047},{"t":0.9722,"v":0.044},{"t":0.9806,"v":-0.047},{"t":0.9889,"v":0.044},{"t":0.9972,"v":-0.047},
{"t":1.0056,"v":0.044},{"t":1.0139,"v":-0.047},{"t":1.0222,"v":0.044},{"t":1.0306,"v":-0.047},{"t":1.0389,"v":0.044},{"t":1.0472,"v":-0.047},{"t":1.0556,"v":0.044},{"t":1.0639,"v":-0.047},{"t":1.0722,"v":0.044},{"t":1.0806,"v":-0.047},{"t":1.0889,"v":0.044},{"t":1.0972,"v":-0.047},
{"t":1.1056,"v":0.044},{"t":1.1139,"v":-0.047},{"t":1.1222,"v":0.044},{"t":1.1306,"v":-0.047},{"t":1.1389,"v":0.044},{"t":1.1472,"v":-0.047},{"t":1.1556,"v":0.044},{"t":1.1639,"v":-0.047},{"t":1.1722,"v":0.044},{"t":1.1806,"v":-0.047},{"t":1.1889,"v":0.044},{"t":1.1972,"v":-0.047},
{"t":1.2056,"v":0.044},{"t":1.2139,"v":-0.047},{"t":1.2222,"v":0.044},{"t":1.2306,"v":-0.047},{"t":1.2389,"v":0.044},{"t":1.2472,"v":-0.047},{"t":1.2556,"v":0.044},{"t":1.2639,"v":-0.047},{"t":1.2722,"v":0.044},{"t":1.2806,"v":-0.129},{"t":1.2889,"v":0.105},{"t":1.2972,"v":-0.085},
{"t":1.3056,"v":0.08},{"t":1.3139,"v":-0.078},{"t":1.3222,"v":0.076},{"t":1.3306,"v":-0.073},{"t":1.3389,"v":0.076},{"t":1.3472,"v":-0.073},{"t":1.3556,"v":0.076},{"t":1.3639,"v":-0.073},{"t":1.3722,"v":0.076},{"t":1.3806,"v":-0.073},{"t":1.3889,"v":0.076},{"t":1.3972,"v":-0.073},
{"t":1.4056,"v":0.076},{"t":1.4139,"v":-0.073},{"t":1.4222,"v":0.076},{"t":1.4306,"v":-0.073},{"t":1.4389,"v":0.076},{"t":1.4472,"v":-0.073},{"t":1.4556,"v":0.076},{"t":1.4639,"v":-0.073},{"t":1.4722,"v":0.076},{"t":1.4806,"v":-0.073},{"t":1.4889,"v":0.076},{"t":1.4972,"v":-0.073},
{"t":1.5056,"v":0.076},{"t":1.5139,"v":-0.073},{"t":1.5222,"v":0.076},{"t":1.5306,"v":-0.073},{"t":1.5389,"v":0.076},{"t":1.5472,"v":-0.073},{"t":1.5556,"v":0.076},{"t":1.5639,"v":-0.073},{"t":1.5722,"v":0.076},{"t":1.5806,"v":-0.073},{"t":1.5889,"v":0.076},{"t":1.5972,"v":-0.073},
{"t":1.6056,"v":0.076},{"t":1.6139,"v":-0.073},{"t":1.6222,"v":0.076},{"t":1.6306,"v":-0.073},{"t":1.6389,"v":0.076},{"t":1.6472,"v":-0.073},{"t":1.6556,"v":0.076},{"t":1.6639,"v":-0.073},{"t":1.6722,"v":0.076},{"t":1.6806,"v":-0.073},{"t":1.6889,"v":0.076},{"t":1.6972,"v":-0.073},
{"t":1.7056,"v":0.076},{"t":1.7139,"v":-0.073},{"t":1.7222,"v":0.076},{"t":1.7306,"v":-0.073},{"t":1.7389,"v":0.076},{"t":1.7472,"v":-0.073},{"t":1.7556,"v":0.076},{"t":1.7639,"v":-0.073},{"t":1.7722,"v":0.076},{"t":1.7806,"v":-0.073},{"t":1.7889,"v":0.076},{"t":1.7972,"v":-0.073},
{"t":1.8056,"v":0.076},{"t":1.8139,"v":-0.073},{"t":1.8222,"v":0.076},{"t":1.8306,"v":-0.073},{"t":1.8389,"v":0.076},{"t":1.8472,"v":-0.073},{"t":1.8556,"v":0.076},{"t":1.8639,"v":-0.073},{"t":1.8722,"v":0.076},{"t":1.8806,"v":-0.073},{"t":1.8889,"v":0.076},{"t":1.8972,"v":-0.073},
{"t":1.9056,"v":0.076},{"t":1.9139,"v":-0.073},{"t":1.9222,"v":0.076},{"t":1.9306,"v":-0.073},{"t":1.9389,"v":0.076},{"t":1.9472,"v":-0.073},{"t":1.9556,"v":0.076},{"t":1.9639,"v":-0.073},{"t":1.9722,"v":0.076},{"t":1.9806,"v":-0.073},{"t":1.9889,"v":0.076},{"t":1.9972,"v":-0.073},{"t":2,"v":-0.04}]
},
"vconcat": [
 {"title": {"text": "Voltage", "offset": -2}, "width": 921, "height": 195,
  "encoding": {
   "x": {"field": "t", "type": "quantitative", "title": null, "scale": {"domain": [0, 2], "nice": false}, "axis": {"values": [0, 0.333333, 0.666667, 1, 1.333333, 1.666667, 2], "labels": false}},
   "y": {"field": "v", "type": "quantitative", "title": null, "scale": {"domain": [-296.61923, 336.03275], "nice": false, "zero": false}, "axis": {"values": [336.03275, 230.591, 125.149, 19.707, -85.735, -191.177, -296.61923], "format": ".8~g", "labelPadding": 3}}
  },
  "layer": [
   {"data": {"name": "vk"}, "mark": {"type": "line", "color": "#000000", "strokeWidth": 1.3, "clip": true}},
   {"data": {"name": "vr"}, "mark": {"type": "line", "color": "#ff0000", "strokeWidth": 1.3, "clip": true}},
   {"data": {"name": "vb"}, "mark": {"type": "line", "color": "#0000ff", "strokeWidth": 1.3, "clip": true}}
  ]
 },
 {"title": {"text": "Current", "offset": 0}, "width": 921, "height": 210,
  "encoding": {
   "x": {"field": "t", "type": "quantitative", "title": null, "scale": {"domain": [0, 2], "nice": false}, "axis": {"values": [0, 0.333333, 0.666667, 1, 1.333333, 1.666667, 2], "format": ".5~f", "labelPadding": 9}},
   "y": {"field": "v", "type": "quantitative", "title": null, "scale": {"domain": [-0.18679, 0.23006], "nice": false, "zero": false}, "axis": {"values": [0.23006, 0.16058, 0.09111, 0.02163, -0.04784, -0.11732, -0.18679], "format": ".5~f", "labelPadding": 3}}
  },
  "layer": [
   {"data": {"name": "ck"}, "mark": {"type": "line", "color": "#000000", "strokeWidth": 1.3, "clip": true}},
   {"data": {"name": "cr"}, "mark": {"type": "line", "color": "#ff0000", "strokeWidth": 1.3, "clip": true}},
   {"data": {"name": "cb"}, "mark": {"type": "line", "color": "#0000ff", "strokeWidth": 1.3, "clip": true}}
  ]
 }
]
}
